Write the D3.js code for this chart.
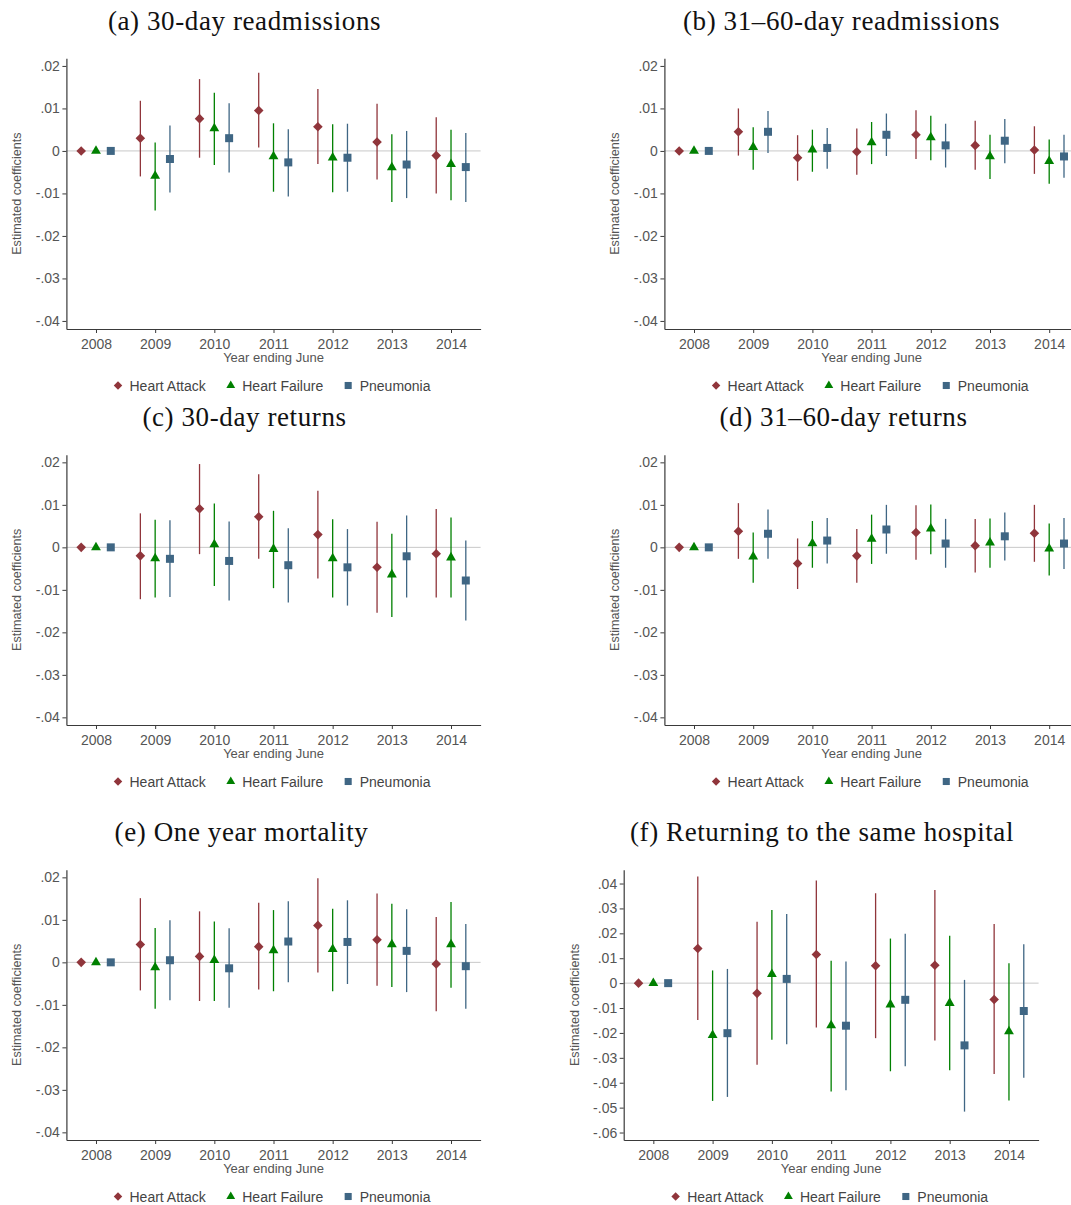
<!DOCTYPE html>
<html>
<head>
<meta charset="utf-8">
<script src="https://d3js.org/d3.v7.min.js"></script>
<style>
  body { margin: 0; background: #fff; }
  svg { display: block; }
</style>
</head>
<body>
<div id="chart"></div>
<script>
// Categories and labels
const years = [2008, 2009, 2010, 2011, 2012, 2013, 2014];
const seriesNames = ["Heart Attack", "Heart Failure", "Pneumonia"];
const panelTitles = [
  "(a) 30-day readmissions",
  "(b) 31\u201360-day readmissions",
  "(c) 30-day returns",
  "(d) 31\u201360-day returns",
  "(e) One year mortality",
  "(f) Returning to the same hospital"
];
const yTicksNarrow = [0.02, 0.01, 0, -0.01, -0.02, -0.03, -0.04];
const yTicksWide = [0.04, 0.03, 0.02, 0.01, 0, -0.01, -0.02, -0.03, -0.04, -0.05, -0.06];

// Each row: [estimate, lower CI, upper CI] for years 2008..2014
// (a) 30-day readmissions
const aHA = [[0,0,0],[0.0030,-0.0060,0.0118],[0.0076,-0.0016,0.0169],[0.0095,0.0008,0.0184],[0.0057,-0.0031,0.0146],[0.0021,-0.0067,0.0111],[-0.0011,-0.0100,0.0079]];
const aHF = [[0,0,0],[-0.0059,-0.0140,0.0020],[0.0053,-0.0033,0.0137],[-0.0013,-0.0096,0.0065],[-0.0016,-0.0097,0.0063],[-0.0039,-0.0120,0.0039],[-0.0031,-0.0116,0.0050]];
const aPN = [[0,0,0],[-0.0019,-0.0098,0.0060],[0.0030,-0.0051,0.0112],[-0.0027,-0.0107,0.0051],[-0.0016,-0.0096,0.0064],[-0.0032,-0.0111,0.0047],[-0.0038,-0.0120,0.0042]];
// (b) 31-60-day readmissions
const bHA = [[0,0,0],[0.0045,-0.0011,0.0100],[-0.0016,-0.0070,0.0037],[-0.0002,-0.0056,0.0053],[0.0038,-0.0019,0.0096],[0.0013,-0.0044,0.0071],[0.0002,-0.0054,0.0058]];
const bHF = [[0,0,0],[0.0009,-0.0044,0.0056],[0.0003,-0.0049,0.0050],[0.0020,-0.0031,0.0068],[0.0032,-0.0022,0.0083],[-0.0013,-0.0066,0.0038],[-0.0024,-0.0077,0.0027]];
const bPN = [[0,0,0],[0.0045,-0.0005,0.0094],[0.0007,-0.0042,0.0054],[0.0038,-0.0012,0.0088],[0.0013,-0.0039,0.0064],[0.0024,-0.0029,0.0075],[-0.0013,-0.0063,0.0038]];
// (c) 30-day returns
const cHA = [[0,0,0],[-0.0020,-0.0122,0.0080],[0.0091,-0.0016,0.0196],[0.0072,-0.0027,0.0172],[0.0030,-0.0073,0.0133],[-0.0047,-0.0154,0.0060],[-0.0015,-0.0118,0.0090]];
const cHF = [[0,0,0],[-0.0026,-0.0118,0.0065],[0.0007,-0.0091,0.0103],[-0.0004,-0.0096,0.0086],[-0.0026,-0.0118,0.0066],[-0.0064,-0.0164,0.0032],[-0.0024,-0.0118,0.0070]];
const cPN = [[0,0,0],[-0.0027,-0.0117,0.0064],[-0.0032,-0.0125,0.0061],[-0.0042,-0.0130,0.0045],[-0.0047,-0.0137,0.0043],[-0.0021,-0.0118,0.0075],[-0.0078,-0.0172,0.0016]];
// (d) 31-60-day returns
const dHA = [[0,0,0],[0.0038,-0.0027,0.0104],[-0.0038,-0.0098,0.0021],[-0.0020,-0.0083,0.0043],[0.0035,-0.0029,0.0099],[0.0004,-0.0059,0.0067],[0.0033,-0.0034,0.0100]];
const dHF = [[0,0,0],[-0.0022,-0.0083,0.0035],[0.0009,-0.0048,0.0062],[0.0020,-0.0039,0.0077],[0.0044,-0.0016,0.0101],[0.0011,-0.0048,0.0068],[-0.0003,-0.0066,0.0056]];
const dPN = [[0,0,0],[0.0032,-0.0027,0.0089],[0.0016,-0.0038,0.0069],[0.0042,-0.0015,0.0100],[0.0009,-0.0048,0.0067],[0.0026,-0.0031,0.0082],[0.0009,-0.0051,0.0069]];
// (e) One year mortality
const eHA = [[0,0,0],[0.0042,-0.0066,0.0151],[0.0014,-0.0091,0.0120],[0.0037,-0.0064,0.0140],[0.0087,-0.0024,0.0198],[0.0053,-0.0055,0.0162],[-0.0004,-0.0115,0.0107]];
const eHF = [[0,0,0],[-0.0012,-0.0109,0.0081],[0.0005,-0.0091,0.0096],[0.0028,-0.0068,0.0123],[0.0031,-0.0068,0.0126],[0.0042,-0.0058,0.0138],[0.0042,-0.0060,0.0142]];
const ePN = [[0,0,0],[0.0005,-0.0089,0.0099],[-0.0014,-0.0107,0.0080],[0.0049,-0.0047,0.0144],[0.0048,-0.0051,0.0146],[0.0027,-0.0070,0.0125],[-0.0009,-0.0109,0.0090]];
// (f) Returning to the same hospital
const fHA = [[0,0,0],[0.0139,-0.0148,0.0428],[-0.0041,-0.0328,0.0247],[0.0115,-0.0178,0.0412],[0.0070,-0.0221,0.0361],[0.0072,-0.0230,0.0374],[-0.0066,-0.0365,0.0237]];
const fHF = [[0,0,0],[-0.0209,-0.0473,0.0051],[0.0036,-0.0227,0.0294],[-0.0170,-0.0435,0.0090],[-0.0086,-0.0354,0.0179],[-0.0080,-0.0350,0.0190],[-0.0194,-0.0471,0.0080]];
const fPN = [[0,0,0],[-0.0201,-0.0457,0.0057],[0.0017,-0.0245,0.0278],[-0.0171,-0.0430,0.0087],[-0.0067,-0.0334,0.0198],[-0.0250,-0.0516,0.0013],[-0.0112,-0.0380,0.0156]];

// Styling
const colors = ["#90353b", "#008000", "#3f6684"];
const offsets = [-0.25, 0, 0.25];
const symbols = [
  d3.symbol(d3.symbolSquare, 46),    // rotated to a diamond
  d3.symbol(d3.symbolTriangle, 42),
  d3.symbol(d3.symbolSquare, 64)
];
const legendSymbols = [
  d3.symbol(d3.symbolSquare, 36),
  d3.symbol(d3.symbolTriangle, 34),
  d3.symbol(d3.symbolSquare, 50)
];
const rotations = [45, 0, 0];
const sansFont = "'Liberation Sans', Arial, sans-serif";
const serifFont = "'Liberation Serif', 'Times New Roman', serif";

const width = 1071, height = 1205;

const svg = d3.select("#chart")
  .append("svg")
  .attr("width", width)
  .attr("height", height)
  .style("background", "#fff");

// Panel layout
const panels = [
  { title: panelTitles[0], tx: 244.5, ty: 30, left: 66.4, right: 480.6, bottom: 329, dom: [-0.0419, 0.0218], unit: 4250, ticks: yTicksNarrow, data: [aHA, aHF, aPN] },
  { title: panelTitles[1], tx: 841.5, ty: 30, left: 664.4, right: 1078.8, bottom: 329, dom: [-0.0419, 0.0218], unit: 4250, ticks: yTicksNarrow, data: [bHA, bHF, bPN] },
  { title: panelTitles[2], tx: 244.5, ty: 426, left: 66.4, right: 480.6, bottom: 725, dom: [-0.0418, 0.0218], unit: 4250, ticks: yTicksNarrow, data: [cHA, cHF, cPN] },
  { title: panelTitles[3], tx: 843.5, ty: 426, left: 664.4, right: 1078.8, bottom: 725, dom: [-0.0418, 0.0218], unit: 4250, ticks: yTicksNarrow, data: [dHA, dHF, dPN] },
  { title: panelTitles[4], tx: 241.5, ty: 841, left: 66.4, right: 480.6, bottom: 1140, dom: [-0.0418, 0.0218], unit: 4250, ticks: yTicksNarrow, data: [eHA, eHF, ePN] },
  { title: panelTitles[5], tx: 822, ty: 841, left: 623.7, right: 1038.6, bottom: 1140, dom: [-0.063, 0.0455], unit: 2490, ticks: yTicksWide, data: [fHA, fHF, fPN] }
];

// y tick format like ".02", "-.01", "0"
const fmtY = d => d === 0 ? "0" : (d < 0 ? "-" : "") + Math.abs(d).toFixed(2).replace(/^0/, "");

panels.forEach(p => {
  const top = p.bottom - (p.dom[1] - p.dom[0]) * p.unit;

  const x = d3.scaleLinear().domain([2007.5, 2014.5]).range([p.left, p.right]);
  const y = d3.scaleLinear().domain(p.dom).range([p.bottom, top]);

  const g = svg.append("g");

  // Title
  g.append("text")
    .attr("x", p.tx)
    .attr("y", p.ty)
    .attr("text-anchor", "middle")
    .style("font-family", serifFont)
    .style("font-size", "27px")
    .style("letter-spacing", "0.6px")
    .style("fill", "#111")
    .text(p.title);

  // Zero reference line
  g.append("line")
    .attr("x1", p.left)
    .attr("x2", p.right)
    .attr("y1", y(0))
    .attr("y2", y(0))
    .attr("stroke", "#c8c8c8")
    .attr("stroke-width", 1);

  // Axes
  const yAxis = g.append("g")
    .attr("transform", `translate(${p.left},0)`)
    .call(d3.axisLeft(y).tickValues(p.ticks).tickFormat(fmtY).tickSize(4).tickSizeOuter(0).tickPadding(2.5));

  const xAxis = g.append("g")
    .attr("transform", `translate(0,${p.bottom})`)
    .call(d3.axisBottom(x).tickValues(years).tickFormat(d3.format("d")).tickSize(4).tickSizeOuter(0).tickPadding(6.5));

  [yAxis, xAxis].forEach(a => {
    a.select(".domain").attr("stroke", "#3a3a3a").attr("stroke-width", 1.2);
    a.selectAll(".tick line").attr("stroke", "#3a3a3a").attr("stroke-width", 1);
    a.selectAll(".tick text")
      .style("font-family", sansFont)
      .style("font-size", "14px")
      .attr("fill", "#555");
  });

  // Axis titles
  g.append("text")
    .attr("transform", `translate(${p.left - 45},${(p.bottom + top) / 2}) rotate(-90)`)
    .attr("text-anchor", "middle")
    .style("font-family", sansFont)
    .style("font-size", "12.6px")
    .style("fill", "#555")
    .text("Estimated coefficients");

  g.append("text")
    .attr("x", (p.left + p.right) / 2)
    .attr("y", p.bottom + 33)
    .attr("text-anchor", "middle")
    .style("font-family", sansFont)
    .style("font-size", "13px")
    .style("fill", "#555")
    .text("Year ending June");

  // Confidence intervals and point estimates
  p.data.forEach((series, s) => {
    g.selectAll(null)
      .data(series)
      .enter()
      .append("line")
      .attr("x1", (d, i) => x(years[i] + offsets[s]))
      .attr("x2", (d, i) => x(years[i] + offsets[s]))
      .attr("y1", d => y(d[1]))
      .attr("y2", d => y(d[2]))
      .attr("stroke", colors[s])
      .attr("stroke-width", 1.3);
  });

  p.data.forEach((series, s) => {
    g.selectAll(null)
      .data(series)
      .enter()
      .append("path")
      .attr("d", symbols[s])
      .attr("transform", (d, i) => `translate(${x(years[i] + offsets[s])},${y(d[0])}) rotate(${rotations[s]})`)
      .attr("fill", colors[s]);
  });

  // Legend
  const legend = g.append("g");
  let cursor = 0;
  seriesNames.forEach((name, s) => {
    const item = legend.append("g").attr("transform", `translate(${cursor},0)`);
    item.append("path")
      .attr("d", legendSymbols[s])
      .attr("transform", `translate(4.5,-5) rotate(${rotations[s]})`)
      .attr("fill", colors[s]);
    const t = item.append("text")
      .attr("x", 16)
      .attr("y", 0)
      .style("font-family", sansFont)
      .style("font-size", "14px")
      .style("fill", "#444")
      .text(name);
    cursor += 16 + t.node().getComputedTextLength() + 20.5;
  });
  const legendWidth = cursor - 20.5;
  legend.attr("transform", `translate(${(p.left + p.right) / 2 - legendWidth / 2 - 1.5},${p.bottom + 61.5})`);
});
</script>
</body>
</html>
